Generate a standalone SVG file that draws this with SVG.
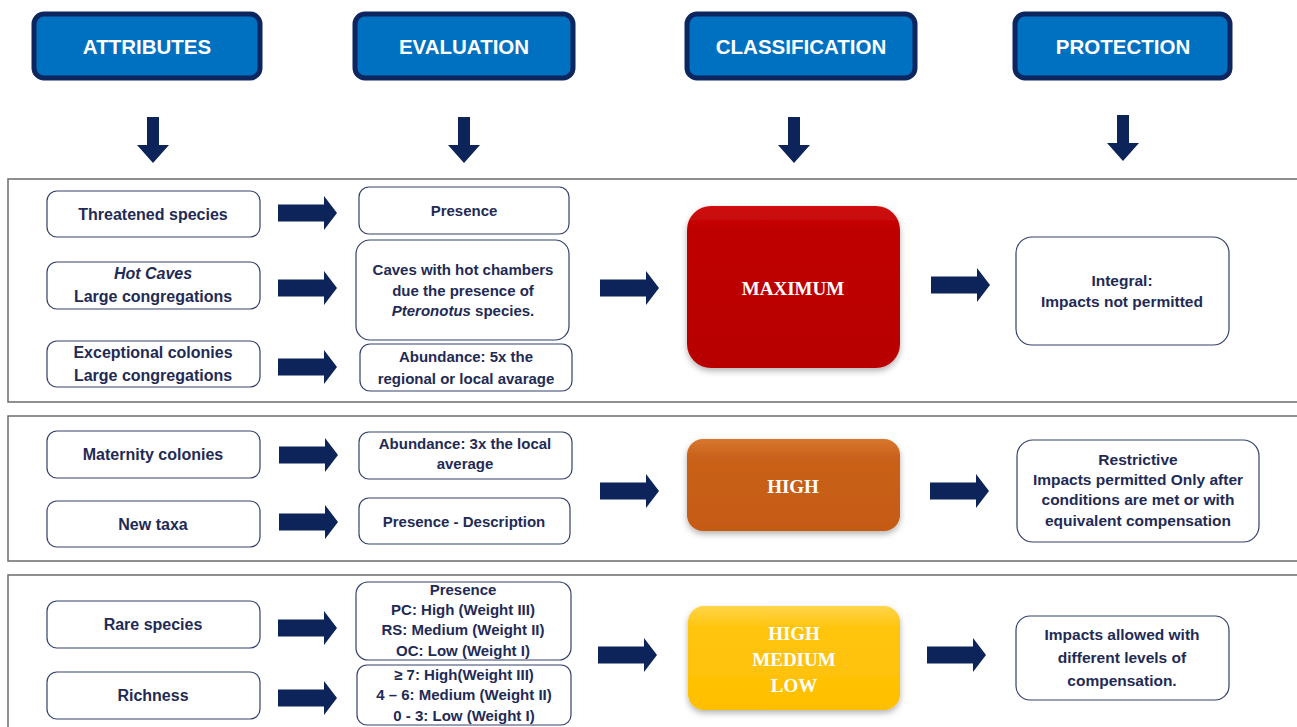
<svg xmlns="http://www.w3.org/2000/svg" width="1297" height="727" viewBox="0 0 1297 727">
<style>
.hdr rect{fill:#0070c0;stroke:#0d2660;stroke-width:5}
.hdr text{fill:#fff;font-family:"Liberation Sans",Arial,sans-serif;font-size:20.5px;font-weight:bold;text-anchor:middle}
.frame{fill:#fff;stroke:#6b6b6b;stroke-width:1.5}
.nd rect{fill:#fff;stroke:#34406a;stroke-width:1.2}
.nd text{fill:#1f2b55;font-family:"Liberation Sans",Arial,sans-serif;font-size:15px;font-weight:bold;text-anchor:middle}
.att text{font-size:16px}
.pro text{font-size:15.5px}
.cls text{fill:#fff;font-family:"Liberation Serif","Times New Roman",serif;font-size:19px;font-weight:bold;text-anchor:middle}
.arr{fill:#0c2459}
</style>
<defs>
<path id="ha" d="M0,-8.5 H46 V-17 L59,0 L46,17 V8.5 H0 Z"/>
<path id="va" d="M-6,0 V28 H-16 L0,46 L16,28 H6 V0 Z"/>
<linearGradient id="gRed" x1="0" y1="0" x2="0" y2="1"><stop offset="0" stop-color="#d01010"/><stop offset="0.15" stop-color="#bf0000"/><stop offset="1" stop-color="#b80000"/></linearGradient>
<linearGradient id="gOr" x1="0" y1="0" x2="0" y2="1"><stop offset="0" stop-color="#d8772e"/><stop offset="0.2" stop-color="#c9611a"/><stop offset="1" stop-color="#c55a11"/></linearGradient>
<linearGradient id="gYe" x1="0" y1="0" x2="0" y2="1"><stop offset="0" stop-color="#ffd54a"/><stop offset="0.2" stop-color="#ffc510"/><stop offset="1" stop-color="#ffbf00"/></linearGradient>
<filter id="sh" x="-10%" y="-10%" width="120%" height="125%"><feDropShadow dx="0" dy="3" stdDeviation="3" flood-color="#000" flood-opacity="0.3"/></filter>
</defs>
<rect width="1297" height="727" fill="#fff"/>

<g id="frames">
<rect class="frame" x="8" y="179" width="1300" height="223"/>
<rect class="frame" x="8" y="416" width="1300" height="145"/>
<rect class="frame" x="8" y="575" width="1300" height="170"/>
</g>

<g id="h-attributes" class="hdr"><rect x="34" y="14" width="226" height="64" rx="10"/><text x="147" y="54">ATTRIBUTES</text></g>
<g id="h-evaluation" class="hdr"><rect x="355" y="14" width="218" height="64" rx="10"/><text x="464" y="54">EVALUATION</text></g>
<g id="h-classification" class="hdr"><rect x="687" y="14" width="228" height="64" rx="10"/><text x="801" y="54">CLASSIFICATION</text></g>
<g id="h-protection" class="hdr"><rect x="1015" y="14" width="215" height="64" rx="10"/><text x="1123" y="54">PROTECTION</text></g>

<g id="n-threatened" class="nd att"><rect x="47" y="191" width="213" height="46" rx="10"/><text x="153" y="220">Threatened species</text></g>
<g id="n-hotcaves" class="nd att"><rect x="47" y="262" width="213" height="47" rx="10"/><text x="153" y="279" font-style="italic">Hot Caves</text><text x="153" y="302">Large congregations</text></g>
<g id="n-exceptional" class="nd att"><rect x="47" y="341" width="213" height="46" rx="10"/><text x="153" y="358">Exceptional colonies</text><text x="153" y="381">Large congregations</text></g>
<g id="n-presence1" class="nd"><rect x="359" y="187" width="210" height="47" rx="10"/><text x="464" y="216">Presence</text></g>
<g id="n-hotchambers" class="nd"><rect x="356" y="240" width="213" height="100" rx="14"/><text x="463" y="275">Caves with hot chambers</text><text x="463" y="296">due the presence of</text><text x="463" y="316"><tspan font-style="italic">Pteronotus</tspan> species.</text></g>
<g id="n-abund5" class="nd"><rect x="360" y="344" width="212" height="47" rx="10"/><text x="466" y="362">Abundance: 5x the</text><text x="466" y="384">regional or local avarage</text></g>
<g id="n-maximum" class="cls"><rect x="687" y="206" width="213" height="162" rx="24" fill="url(#gRed)" filter="url(#sh)"/><text x="793" y="295">MAXIMUM</text></g>
<g id="n-integral" class="nd pro"><rect x="1016" y="237" width="213" height="108" rx="16"/><text x="1122" y="286">Integral:</text><text x="1122" y="307">Impacts not permitted</text></g>

<g id="n-maternity" class="nd att"><rect x="47" y="431" width="213" height="47" rx="10"/><text x="153" y="460">Maternity colonies</text></g>
<g id="n-newtaxa" class="nd att"><rect x="47" y="501" width="213" height="46" rx="10"/><text x="153" y="530">New taxa</text></g>
<g id="n-abund3" class="nd"><rect x="359" y="432" width="213" height="47" rx="10"/><text x="465" y="449">Abundance: 3x the local</text><text x="465" y="469">average</text></g>
<g id="n-presdesc" class="nd"><rect x="359" y="498" width="211" height="46" rx="10"/><text x="464" y="527">Presence - Description</text></g>
<g id="n-high" class="cls"><rect x="687" y="439" width="213" height="92" rx="16" fill="url(#gOr)" filter="url(#sh)"/><text x="793" y="493">HIGH</text></g>
<g id="n-restrictive" class="nd pro"><rect x="1017" y="440" width="242" height="102" rx="16"/><text x="1138" y="465">Restrictive</text><text x="1138" y="485">Impacts permitted Only after</text><text x="1138" y="505">conditions are met or with</text><text x="1138" y="526">equivalent compensation</text></g>

<g id="n-rare" class="nd att"><rect x="47" y="601" width="213" height="47" rx="10"/><text x="153" y="630">Rare species</text></g>
<g id="n-richness" class="nd att"><rect x="47" y="672" width="213" height="47" rx="10"/><text x="153" y="701">Richness</text></g>
<g id="n-presence3" class="nd"><rect x="356" y="582" width="215" height="78" rx="12"/><text x="463" y="595">Presence</text><text x="463" y="615">PC: High (Weight III)</text><text x="463" y="635">RS: Medium (Weight II)</text><text x="463" y="656">OC: Low (Weight I)</text></g>
<g id="n-richlevels" class="nd"><rect x="357" y="665" width="214" height="60" rx="10"/><text x="464" y="680">≥ 7: High(Weight III)</text><text x="464" y="700">4 – 6: Medium (Weight II)</text><text x="464" y="721">0 - 3: Low (Weight I)</text></g>
<g id="n-hml" class="cls"><rect x="688" y="606" width="212" height="104" rx="16" fill="url(#gYe)" filter="url(#sh)"/><text x="794" y="640">HIGH</text><text x="794" y="666">MEDIUM</text><text x="794" y="692">LOW</text></g>
<g id="n-allowed" class="nd pro"><rect x="1016" y="616" width="213" height="84" rx="14"/><text x="1122" y="640">Impacts allowed with</text><text x="1122" y="663">different levels of</text><text x="1122" y="686">compensation.</text></g>

<g id="connectors" class="arr">
<use href="#va" x="153" y="117"/>
<use href="#va" x="464" y="117"/>
<use href="#va" x="794" y="117"/>
<use href="#va" x="1123" y="115"/>
<use href="#ha" x="278" y="213"/>
<use href="#ha" x="278" y="288"/>
<use href="#ha" x="278" y="367"/>
<use href="#ha" x="600" y="288"/>
<use href="#ha" x="931" y="285"/>
<use href="#ha" x="279" y="455"/>
<use href="#ha" x="279" y="522"/>
<use href="#ha" x="600" y="491"/>
<use href="#ha" x="930" y="491"/>
<use href="#ha" x="278" y="628"/>
<use href="#ha" x="278" y="698"/>
<use href="#ha" x="598" y="655"/>
<use href="#ha" x="927" y="655"/>
</g>
</svg>
